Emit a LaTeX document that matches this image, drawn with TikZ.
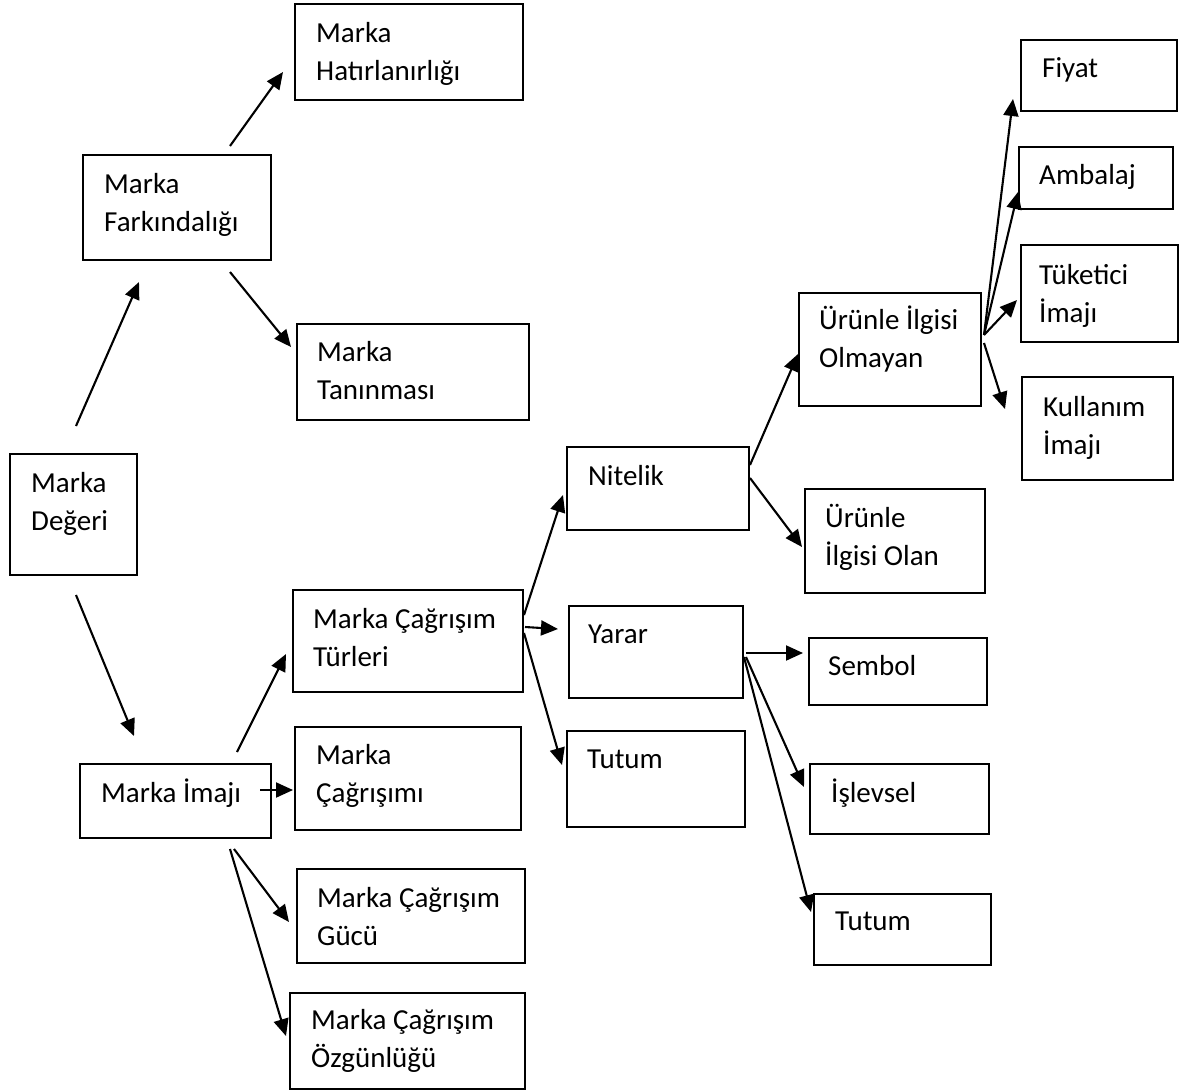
\documentclass[tikz,border=0pt]{standalone}
\usepackage{fontspec}
\setmainfont{Carlito}
\usetikzlibrary{arrows.meta}

\begin{document}
\begin{tikzpicture}[
    x=1pt, y=-1pt,
    kutu/.style={rectangle, draw, line width=2pt, anchor=north west, inner sep=0pt},
    yazi/.style={anchor=base west, align=left, inner sep=0pt, font=\fontsize{29}{38}\selectfont},
    ok/.style={-{Triangle[length=17pt, width=15pt]}, line width=2.1pt}
]
\useasboundingbox (0,0) rectangle (1181,1090);

% Marka degeri ve farkindalik (iki satirli yazilarda taban son satirda)
\node[kutu, minimum width=127pt, minimum height=121pt] (deger) at (9,453) {};
\node[yazi] (deger-t) at ([shift={(22,77)}]deger.north west) {Marka\\Değeri};
\node[kutu, minimum width=188pt, minimum height=105pt] (fark) at (82,154) {};
\node[yazi] (fark-t) at ([shift={(22,77)}]fark.north west) {Marka\\Farkındalığı};
\node[kutu, minimum width=228pt, minimum height=96pt] (hatir) at (294,3) {};
\node[yazi] (hatir-t) at ([shift={(22,77)}]hatir.north west) {Marka\\Hatırlanırlığı};
\node[kutu, minimum width=232pt, minimum height=96pt] (tani) at (296,323) {};
\node[yazi] (tani-t) at ([shift={(21,76)}]tani.north west) {Marka\\Tanınması};

% Marka imaji
\node[kutu, minimum width=191pt, minimum height=74pt] (imaj) at (79,763) {};
\node[yazi] (imaj-t) at ([shift={(22,39)}]imaj.north west) {Marka İmajı};
\node[kutu, minimum width=230pt, minimum height=102pt] (turler) at (292,589) {};
\node[yazi] (turler-t) at ([shift={(21,77)}]turler.north west) {Marka Çağrışım\\Türleri};
\node[kutu, minimum width=226pt, minimum height=103pt] (cagrisim) at (294,726) {};
\node[yazi] (cagrisim-t) at ([shift={(22,76)}]cagrisim.north west) {Marka\\Çağrışımı};
\node[kutu, minimum width=228pt, minimum height=94pt] (guc) at (296,868) {};
\node[yazi] (guc-t) at ([shift={(21,77)}]guc.north west) {Marka Çağrışım\\Gücü};
\node[kutu, minimum width=235pt, minimum height=96pt] (ozgun) at (289,992) {};
\node[yazi] (ozgun-t) at ([shift={(22,75)}]ozgun.north west) {Marka Çağrışım\\Özgünlüğü};

% Cagrisim turleri
\node[kutu, minimum width=182pt, minimum height=83pt] (nitelik) at (566,446) {};
\node[yazi] (nitelik-t) at ([shift={(22,39)}]nitelik.north west) {Nitelik};
\node[kutu, minimum width=174pt, minimum height=92pt] (yarar) at (568,605) {};
\node[yazi] (yarar-t) at ([shift={(20,38)}]yarar.north west) {Yarar};
\node[kutu, minimum width=178pt, minimum height=96pt] (tutum) at (566,730) {};
\node[yazi] (tutum-t) at ([shift={(21,38)}]tutum.north west) {Tutum};

% Nitelik ve yarar alt kutulari
\node[kutu, minimum width=182pt, minimum height=113pt] (olmayan) at (798,292) {};
\node[yazi] (olmayan-t) at ([shift={(21,75)}]olmayan.north west) {Ürünle İlgisi\\Olmayan};
\node[kutu, minimum width=180pt, minimum height=104pt] (olan) at (804,488) {};
\node[yazi] (olan-t) at ([shift={(21,77)}]olan.north west) {Ürünle\\İlgisi Olan};
\node[kutu, minimum width=178pt, minimum height=67pt] (sembol) at (808,637) {};
\node[yazi] (sembol-t) at ([shift={(20,38)}]sembol.north west) {Sembol};
\node[kutu, minimum width=179pt, minimum height=70pt] (islevsel) at (809,763) {};
\node[yazi] (islevsel-t) at ([shift={(22,39)}]islevsel.north west) {İşlevsel};
\node[kutu, minimum width=177pt, minimum height=71pt] (tutum2) at (813,893) {};
\node[yazi] (tutum2-t) at ([shift={(22,37)}]tutum2.north west) {Tutum};

% Urunle ilgisi olmayan alt kutulari
\node[kutu, minimum width=156pt, minimum height=71pt] (fiyat) at (1020,39) {};
\node[yazi] (fiyat-t) at ([shift={(22,38)}]fiyat.north west) {Fiyat};
\node[kutu, minimum width=154pt, minimum height=62pt] (ambalaj) at (1018,146) {};
\node[yazi] (ambalaj-t) at ([shift={(21,38)}]ambalaj.north west) {Ambalaj};
\node[kutu, minimum width=157pt, minimum height=97pt] (tuketici) at (1020,244) {};
\node[yazi] (tuketici-t) at ([shift={(19,78)}]tuketici.north west) {Tüketici\\İmajı};
\node[kutu, minimum width=151pt, minimum height=103pt] (kullanim) at (1021,376) {};
\node[yazi] (kullanim-t) at ([shift={(22,78)}]kullanim.north west) {Kullanım\\İmajı};

% Oklar
\draw[ok] ([shift={(67,-27)}]deger.north west) -- ([shift={(57,21)}]fark.south west);
\draw[ok] ([shift={(148,-8)}]fark.north west) -- ([shift={(-11,-29)}]hatir.south west);
\draw[ok] ([shift={(148,11)}]fark.south west) -- ([shift={(-5,24)}]tani.north west);
\draw[ok] ([shift={(67,19)}]deger.south west) -- ([shift={(55,-27)}]imaj.north west);
\draw[ok] ([shift={(158,-11)}]imaj.north west) -- ([shift={(-6,-39)}]turler.south west);
\draw[ok] ([shift={(-12,27)}]imaj.north east) -- ([shift={(-1,64)}]cagrisim.north west);
\draw[ok] ([shift={(155,10)}]imaj.south west) -- ([shift={(-7,54)}]guc.north west);
\draw[ok] ([shift={(151,10)}]imaj.south west) -- ([shift={(-3,44)}]ozgun.north west);
\draw[ok] ([shift={(0,26)}]turler.north east) -- ([shift={(-3,49)}]nitelik.north west);
\draw[ok] ([shift={(1,38)}]turler.north east) -- ([shift={(-10,24)}]yarar.north west);
\draw[ok] ([shift={(0,44)}]turler.north east) -- ([shift={(-4,35)}]tutum.north west);
\draw[ok] ([shift={(0,19)}]nitelik.north east) -- ([shift={(0,62)}]olmayan.north west);
\draw[ok] ([shift={(0,32)}]nitelik.north east) -- ([shift={(-2,59)}]olan.north west);
\draw[ok] ([shift={(2,48)}]yarar.north east) -- ([shift={(-5,16)}]sembol.north west);
\draw[ok] ([shift={(2,52)}]yarar.north east) -- ([shift={(-5,24)}]islevsel.north west);
\draw[ok] ([shift={(0,52)}]yarar.north east) -- ([shift={(-2,19)}]tutum2.north west);
\draw[ok] ([shift={(2,43)}]olmayan.north east) -- ([shift={(-7,-13)}]fiyat.south west);
\draw[ok] ([shift={(2,43)}]olmayan.north east) -- ([shift={(0,-18)}]ambalaj.south west);
\draw[ok] ([shift={(2,43)}]olmayan.north east) -- ([shift={(-3,56)}]tuketici.north west);
\draw[ok] ([shift={(2,51)}]olmayan.north east) -- ([shift={(-16,33)}]kullanim.north west);

\end{tikzpicture}
\end{document}
